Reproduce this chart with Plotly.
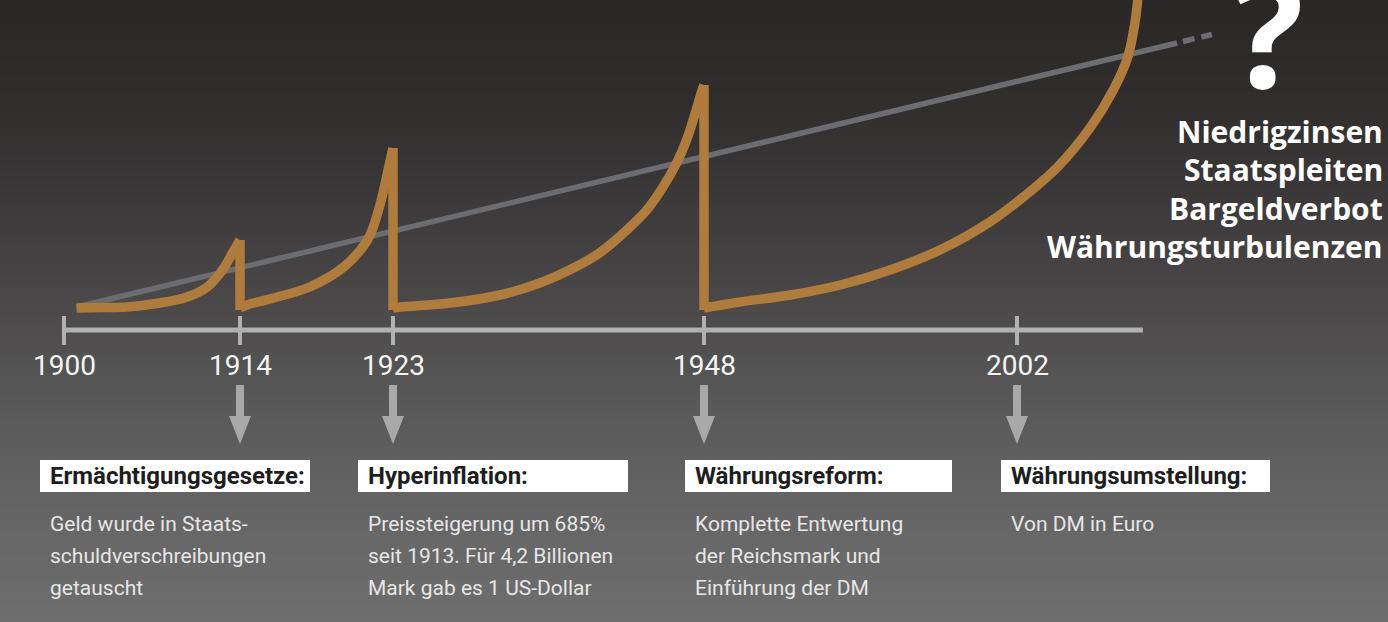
import numpy as np
import plotly.graph_objects as go

# ---------------- data ----------------
tick_years = [1900, 1914, 1923, 1948, 2002]
tick_labels = ["1900", "1914", "1923", "1948", "2002"]

seg1_years = [1901.0, 1903.0, 1905.0, 1907.6, 1909.8, 1911.4, 1912.6, 1913.4, 1914.0]
seg1_level = [22, 22.5, 23, 27, 33, 43, 60, 77, 90]
seg2_years = [1914.0, 1914.4, 1916.2, 1918.1, 1920.1, 1921.5, 1922.2, 1922.8, 1923.0]
seg2_level = [22, 25, 33, 43, 63, 90, 123, 167, 182]
seg3_years = [1923.0, 1923.6, 1927.6, 1931.6, 1934.8, 1937.5, 1939.6, 1941.8, 1943.4,
              1944.7, 1945.8, 1946.6, 1947.3, 1947.85, 1948.0]
seg3_level = [22, 23, 27, 35, 47, 62, 77, 100, 120, 143, 167, 190, 217, 240, 245]
seg4_years = [1948.0, 1954.2, 1962.9, 1971.5, 1980.1, 1988.7, 1997.3, 2003.1, 2009.0,
              2014.7, 2018.6, 2021.1, 2022.4, 2022.8, 2023.0]
seg4_level = [22, 28, 35, 45, 60, 80, 108, 133, 163, 203, 240, 273, 310, 330, 345]

trend_years = [1901.0, 2029.6]
trend_level = [23, 287]
trend_ext_years = [2030.6, 2035.6]
trend_ext_level = [288.5, 295.5]

axis_years = [1900, 2023.7]

event_years = [1914, 1923, 1948, 2002]
event_titles = ["Ermächtigungsgesetze:", "Hyperinflation:", "Währungsreform:", "Währungsumstellung:"]
event_texts = [
    ["Geld wurde in Staats-", "schuldverschreibungen", "getauscht"],
    ["Preissteigerung um 685%", "seit 1913. Für 4,2 Billionen", "Mark gab es 1 US-Dollar"],
    ["Komplette Entwertung", "der Reichsmark und", "Einführung der DM"],
    ["Von DM in Euro"],
]
outlook = ["Niedrigzinsen", "Staatspleiten", "Bargeldverbot", "Währungsturbulenzen"]

# ---------------- layout helpers ----------------
W, H = 1388, 622
anchor_years = [1900, 1914, 1923, 1948, 2002, 2040]
anchor_pos = [64, 240, 393, 704, 1017, 1017 + 38 * 5.8]


def X(y):
    return np.interp(np.asarray(y, dtype=float), anchor_years, anchor_pos)


Y_TOP, Y_BOT = 330, -292  # level units == pixels, timeline at 0

ORANGE = "#b07c3b"
GRAY_TREND = "#6b6d71"
AXIS_GRAY = "#b1b1b1"
ARROW_GRAY = "#a9a9a9"

fig = go.Figure()

# background gradient
bg_px = [0, 100, 200, 300, 400, 500, 622]
bg_col = ["#2a2727", "#302d2d", "#3b3939", "#4a4848", "#595858", "#656464", "#6e6e6e"]
lv = [Y_TOP - p for p in bg_px]
zvals = list(range(len(bg_px)))
cs = [[i / (len(bg_col) - 1), c] for i, c in enumerate(bg_col)]
fig.add_trace(go.Heatmap(
    x=[-50, W + 50], y=lv, z=[[v, v] for v in zvals],
    colorscale=cs, showscale=False, zsmooth="best", hoverinfo="skip",
))

# trend line
fig.add_trace(go.Scatter(x=X(trend_years), y=trend_level, mode="lines",
                         line=dict(color=GRAY_TREND, width=5.5), hoverinfo="skip"))
fig.add_trace(go.Scatter(x=X(trend_ext_years), y=trend_ext_level, mode="lines",
                         line=dict(color=GRAY_TREND, width=5.5, dash="12px,7px"), hoverinfo="skip"))

# orange curve
for yy, lvl in [(seg1_years, seg1_level), (seg2_years, seg2_level),
                (seg3_years, seg3_level), (seg4_years, seg4_level)]:
    fig.add_trace(go.Scatter(x=X(yy), y=lvl, mode="lines",
                             line=dict(color=ORANGE, width=9.5, shape="spline", smoothing=1.0),
                             hoverinfo="skip"))
drops_x, drops_y = [], []
for yy, lvl in [(seg1_years, seg1_level), (seg2_years, seg2_level), (seg3_years, seg3_level)]:
    xp = float(X(yy[-1]))
    drops_x += [xp, xp, None]
    drops_y += [lvl[-1], 20, None]
fig.add_trace(go.Scatter(x=drops_x, y=drops_y, mode="lines",
                         line=dict(color=ORANGE, width=9.5), hoverinfo="skip"))

# timeline
fig.add_trace(go.Scatter(x=X(axis_years), y=[0, 0], mode="lines",
                         line=dict(color=AXIS_GRAY, width=5), hoverinfo="skip"))
tx, ty = [], []
for yr in tick_years:
    xp = float(X(yr))
    tx += [xp, xp, None]
    ty += [14, -15, None]
fig.add_trace(go.Scatter(x=tx, y=ty, mode="lines",
                         line=dict(color=AXIS_GRAY, width=4), hoverinfo="skip"))

annotations = []
for yr, lab in zip(tick_years, tick_labels):
    annotations.append(dict(x=float(X(yr)), y=-35, xref="x", yref="y", text=lab,
                            showarrow=False, xanchor="center", yanchor="middle",
                            font=dict(family="Roboto", size=28, color="#f4f4f4")))

# arrows
ax, ay = [], []
for yr in event_years:
    xp = float(X(yr))
    ax += [xp, xp, None]
    ay += [-55, -88, None]
fig.add_trace(go.Scatter(x=ax, y=ay, mode="lines",
                         line=dict(color=ARROW_GRAY, width=8), hoverinfo="skip"))
for yr in event_years:
    xp = float(X(yr))
    fig.add_trace(go.Scatter(x=[xp - 11, xp + 11, xp, xp - 11], y=[-86, -86, -114, -86],
                             mode="lines", fill="toself", fillcolor=ARROW_GRAY,
                             line=dict(width=0, color=ARROW_GRAY), hoverinfo="skip"))

# event boxes and texts
box_left = [40, 358, 685, 1001]
box_w = [270, 270, 267, 269]
shapes = []
for bl, bw, title, lines in zip(box_left, box_w, event_titles, event_texts):
    shapes.append(dict(type="rect", xref="x", yref="y", x0=bl, x1=bl + bw, y0=-130, y1=-162,
                       fillcolor="#ffffff", line=dict(width=0), layer="above"))
    annotations.append(dict(x=bl + 8, y=-146, xref="x", yref="y", text=title, showarrow=False,
                            xanchor="left", yanchor="middle",
                            font=dict(family="Roboto", size=24, color="#1e1e1e", weight="bold")))
    for i, ln in enumerate(lines):
        annotations.append(dict(x=bl + 8, y=-194 - 32 * i, xref="x", yref="y", text=ln,
                                showarrow=False, xanchor="left", yanchor="middle",
                                font=dict(family="Roboto", size=21, color="#e6e6e6")))

# outlook text
for i, t in enumerate(outlook):
    annotations.append(dict(x=1385, y=199 - 38.5 * i, xref="x", yref="y", text=t, showarrow=False,
                            xanchor="right", yanchor="middle",
                            font=dict(family="Open Sans", size=30, color="#ffffff", weight="bold")))
annotations.append(dict(x=1268, y=300, xref="x", yref="y", text="?", showarrow=False,
                        xanchor="center", yanchor="middle",
                        font=dict(family="Open Sans", size=150, color="#ffffff", weight="bold")))

fig.update_layout(
    width=W, height=H, margin=dict(l=0, r=0, t=0, b=0),
    paper_bgcolor="#3a3838", plot_bgcolor="rgba(0,0,0,0)",
    showlegend=False,
    xaxis=dict(range=[0, W], visible=False, fixedrange=True),
    yaxis=dict(range=[Y_BOT, Y_TOP], visible=False, fixedrange=True),
    shapes=shapes, annotations=annotations,
)

fig.write_html("out.html", config={"displayModeBar": False},
               post_script="document.body.style.margin='0';document.body.style.overflow='hidden';")
